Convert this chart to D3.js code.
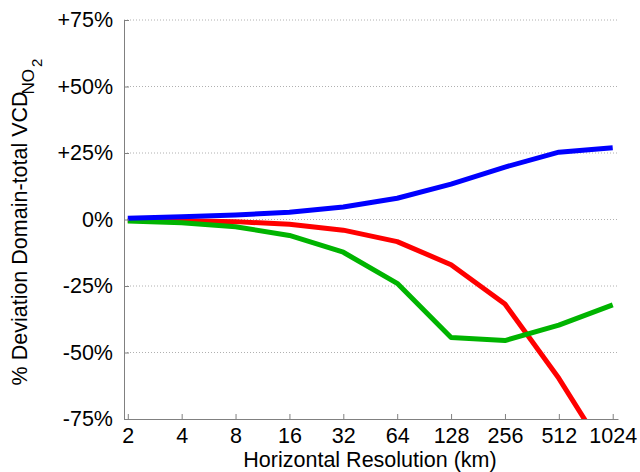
<!DOCTYPE html>
<html><head><meta charset="utf-8">
<script src="https://cdn.jsdelivr.net/npm/d3@7"></script>
<style>body{margin:0;background:#fff}svg{display:block}</style>
</head><body>
<svg id="c" width="640" height="472"></svg>
<script>
const resolutions = [2, 4, 8, 16, 32, 64, 128, 256, 512, 1024];
const blueSeries  = [0.5, 1.0, 1.7, 2.7, 4.7, 8.0, 13.3, 19.7, 25.3, 27.0];
const redSeries   = [-0.3, -0.5, -0.8, -1.8, -4.0, -8.3, -17.0, -31.8, -59.7, -92.0];
const greenSeries = [-0.6, -1.2, -2.7, -6.0, -12.3, -24.0, -44.4, -45.5, -39.7, -32.1];
const yTicks = [-75, -50, -25, 0, 25, 50, 75];
const yTickLabels = ["-75%", "-50%", "-25%", "0%", "+25%", "+50%", "+75%"];

const svg = d3.select("#c");
const L = 124, R = 618, T = 20, B = 419;
const x = d3.scaleLog().base(2).domain([1.905, 1096]).range([L, R]);
const y = d3.scaleLinear().domain([-75, 75]).range([B, T]);
const font = "Liberation Sans, Arial, sans-serif";

// grid
svg.append("g").selectAll("line").data(yTicks.filter(d => d !== -75)).join("line")
  .attr("x1", L).attr("x2", R).attr("y1", d => y(d)).attr("y2", d => y(d))
  .attr("stroke", "#b0b0b0").attr("stroke-width", 1).attr("stroke-dasharray", "1,2");

svg.append("clipPath").attr("id", "clp").append("rect")
  .attr("x", L).attr("y", T - 3).attr("width", R - L + 3).attr("height", B - T + 3);

const line = d3.line().x(d => x(d[0])).y(d => y(d[1]));
const series = [
  {vals: redSeries, color: "#ff0000"},
  {vals: greenSeries, color: "#00b400"},
  {vals: blueSeries, color: "#0000ff"}
];
svg.append("g").attr("clip-path", "url(#clp)").selectAll("path").data(series).join("path")
  .attr("d", s => line(resolutions.map((r, i) => [r, s.vals[i]])))
  .attr("fill", "none").attr("stroke", s => s.color).attr("stroke-width", 5)
  .attr("stroke-linejoin", "round");

// axes
const xAxis = d3.axisBottom(x).tickValues(resolutions).tickFormat(d3.format("d"))
  .tickSizeInner(-5).tickSizeOuter(0).tickPadding(9);
const gx = svg.append("g").attr("transform", `translate(0,${B})`).call(xAxis);
const yAxis = d3.axisLeft(y).tickValues(yTicks).tickFormat((d, i) => yTickLabels[i])
  .tickSizeInner(-5).tickSizeOuter(0).tickPadding(11);
const gy = svg.append("g").attr("transform", `translate(${L},0)`).call(yAxis);
[gx, gy].forEach(g => {
  g.select(".domain").attr("stroke", "#808080").attr("stroke-width", 1);
  g.selectAll(".tick line").attr("stroke", "#808080");
  g.selectAll(".tick text").attr("fill", "#000").style("font-family", font);
});
gx.selectAll(".tick text").style("font-size", "21.5px");
gy.selectAll(".tick text").style("font-size", "21.5px");

svg.append("text").attr("x", 370).attr("y", 467).attr("text-anchor", "middle")
  .style("font-family", font).style("font-size", "21.5px").text("Horizontal Resolution (km)");

const yl = svg.append("text").attr("transform", `translate(27,222) rotate(-90)`)
  .attr("text-anchor", "middle").style("font-family", font).style("font-size", "21.5px");
yl.append("tspan").text("% Deviation Domain-total VCD");
yl.append("tspan").attr("dy", 7).attr("dx", -3).style("font-size", "17px").text("NO");
yl.append("tspan").attr("dy", 8).attr("dx", 2).style("font-size", "15px").text("2");
</script>
</body></html>
